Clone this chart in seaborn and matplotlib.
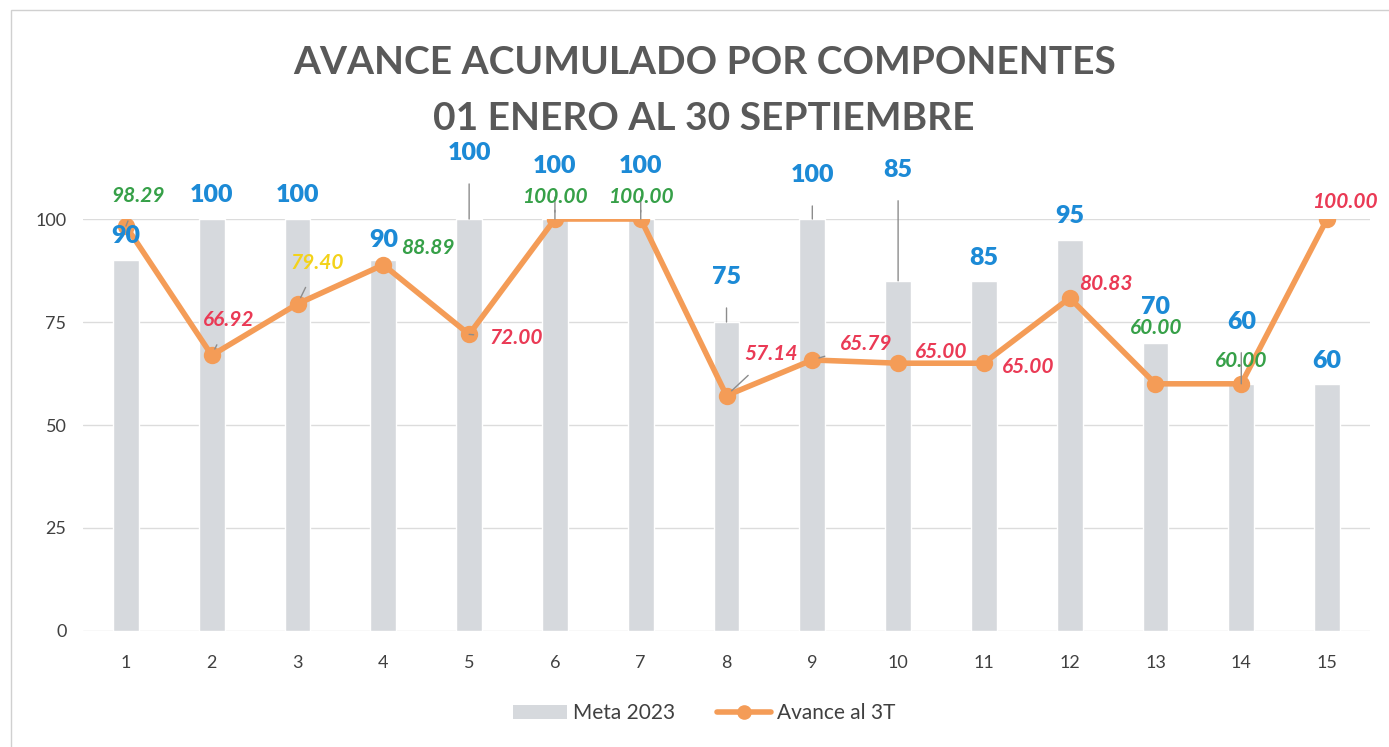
import numpy as np
import pandas as pd
import matplotlib
matplotlib.use("Agg")
import matplotlib.pyplot as plt
from matplotlib.patches import Patch, Rectangle
from matplotlib.lines import Line2D
import seaborn as sns

# ── data ──────────────────────────────────────
componentes = list(range(1, 16))
meta_2023 = [90, 100, 100, 90, 100, 100, 100, 75, 100, 85, 85, 95, 70, 60, 60]
avance_3t = [98.29, 66.92, 79.40, 88.89, 72.00, 100.00, 100.00, 57.14,
             65.79, 65.00, 65.00, 80.83, 60.00, 60.00, 100.00]
avance_colores = ["g", "r", "y", "g", "r", "g", "g", "r",
                  "r", "r", "r", "r", "g", "g", "r"]

# label offsets (pixels) - layout only
meta_dy = [24, 24, 24, 20, 66, 53, 53, 45, 44, 111, 23, 24, 36, 62, 23]
meta_leader = [False, False, False, False, True, True, True, True, True, True,
               False, False, False, True, False]
avance_off = [(12, 30), (17, 35), (20, 41), (45, 17), (47, -4), (0, 22), (0, 22),
              (45, 42), (54, 16), (43, 11), (44, -4), (36, 14), (1, 56), (0, 23),
              (18, 17)]
avance_leader = [True, True, True, False, True, True, True, True, True,
                 False, False, False, False, False, False]

COLORS = {"g": "#36a048", "r": "#ea3a55", "y": "#f3d21a"}
BAR = "#d6d9dd"
ORANGE = "#f49c57"
BLUE = "#1c8ad6"
LEADER = "#8c8c8c"

sns.set_theme(style="white")
plt.rcParams["font.family"] = ["Lato", "DejaVu Sans"]

df = pd.DataFrame({
    "componente": [str(c) for c in componentes],
    "meta": meta_2023,
    "avance": avance_3t,
})

fig = plt.figure(figsize=(13.89, 7.47), dpi=100)
ax = fig.add_axes([0.0598, 0.1553, 0.9265, 0.5515])

sns.barplot(data=df, x="componente", y="meta", color=BAR, width=0.3,
            saturation=1, ax=ax, zorder=2)
sns.pointplot(data=df, x="componente", y="avance", color=ORANGE, errorbar=None,
              markers="o", markersize=9.5, linewidth=4, ax=ax, zorder=3)

ax.set_ylim(0, 100)
ax.set_xlim(-0.5, 14.5)
ax.set_yticks([0, 25, 50, 75, 100])
ax.yaxis.grid(True, color="#dcdcdc", linewidth=1)
ax.set_axisbelow(True)
for s in ax.spines.values():
    s.set_visible(False)
ax.set_xlabel("")
ax.set_ylabel("")
ax.tick_params(axis="both", length=0, labelsize=13, colors="#404040")
ax.tick_params(axis="x", pad=17)
ax.tick_params(axis="y", pad=12)

# meta labels (blue)
for i, v in enumerate(meta_2023):
    kw = {}
    if meta_leader[i]:
        kw["arrowprops"] = dict(arrowstyle="-", color=LEADER, lw=1,
                                shrinkA=12, shrinkB=0)
    ax.annotate(str(v), xy=(i, v), xytext=(0, meta_dy[i]),
                textcoords="offset pixels", ha="center", va="center",
                fontsize=18, fontweight="heavy", color=BLUE,
                annotation_clip=False, zorder=5, **kw)

# avance labels (italic)
for i, v in enumerate(avance_3t):
    kw = {}
    if avance_leader[i]:
        kw["arrowprops"] = dict(arrowstyle="-", color=LEADER, lw=1,
                                shrinkA=9, shrinkB=5)
    dx, dy = avance_off[i]
    ax.annotate(f"{v:.2f}", xy=(i, v), xytext=(dx, dy),
                textcoords="offset pixels", ha="center", va="center",
                fontsize=15, fontweight="bold", fontstyle="italic",
                color=COLORS[avance_colores[i]], annotation_clip=False,
                zorder=6, **kw)

fig.text(0.507, 0.917, "AVANCE ACUMULADO POR COMPONENTES", ha="center",
         va="center", fontsize=28, fontweight="bold", color="#595959")
fig.text(0.507, 0.842, "01 ENERO AL 30 SEPTIEMBRE", ha="center",
         va="center", fontsize=28, fontweight="bold", color="#595959")

handles = [Patch(facecolor=BAR, edgecolor="none"),
           Line2D([0], [0], color=ORANGE, lw=4, marker="o", markersize=9.5)]
fig.legend(handles, ["Meta 2023", "Avance al 3T"], loc="center",
           bbox_to_anchor=(0.507, 0.045), ncol=2, frameon=False,
           fontsize=15, handlelength=2.6, columnspacing=2.0,
           handletextpad=0.3, labelcolor="#404040")

# faint chart frame
fig.patches.append(Rectangle((0.008, -0.01), 1.0, 0.997, transform=fig.transFigure,
                             fill=False, edgecolor="#d0d0d0", lw=1))

fig.savefig("out.png", dpi=100)
